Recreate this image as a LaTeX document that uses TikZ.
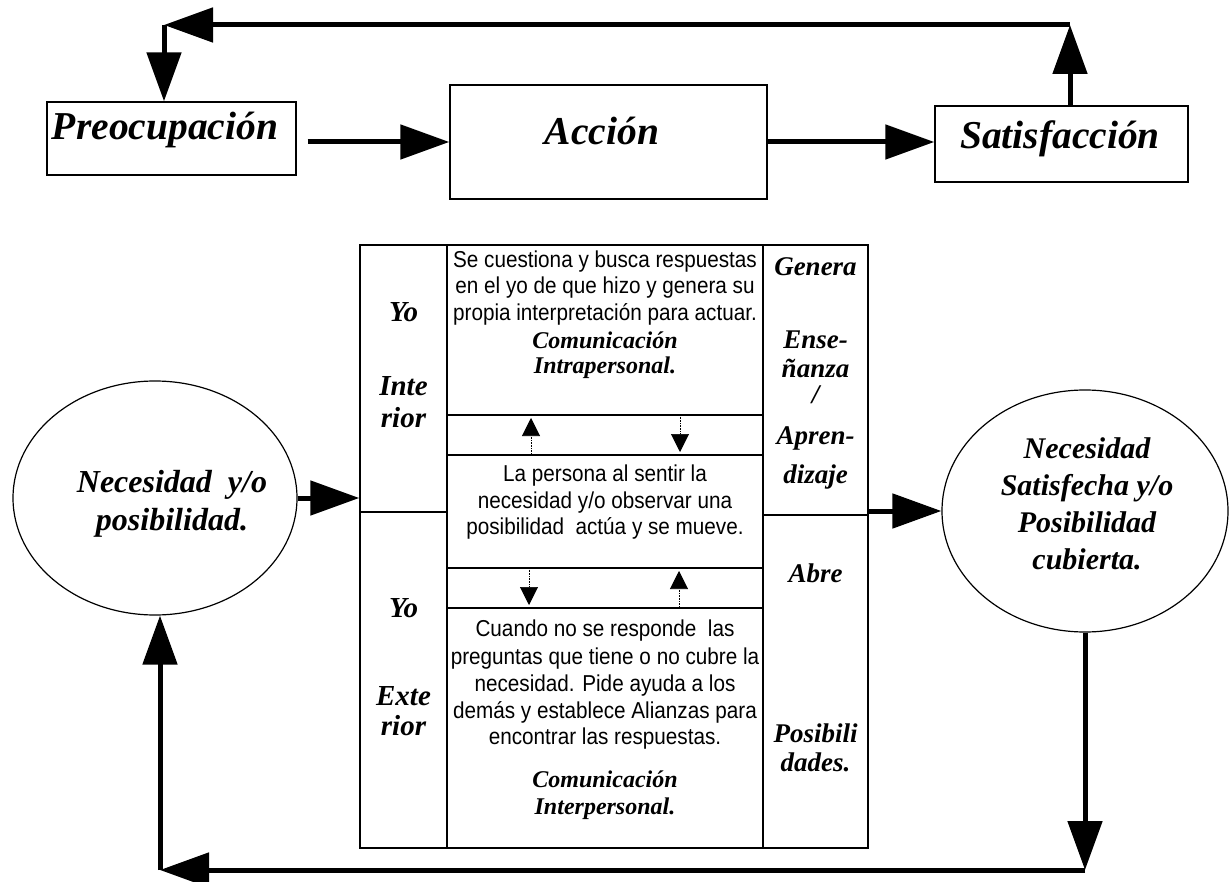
\documentclass[tikz,border=0pt]{standalone}
\usepackage{fontspec}
\setmainfont{Liberation Serif}
\newfontfamily\narrowsans[FakeStretch=0.9]{Liberation Sans}
\usetikzlibrary{arrows.meta,shapes.geometric}
\tikzset{
  box/.style={draw, line width=1.4pt, inner sep=0pt},
  ell/.style={ellipse, draw, line width=1.2pt, inner sep=0pt},
  tline/.style={line width=1.4pt},
  title/.style={font=\bfseries\itshape\fontsize{39.5}{44}\selectfont, inner sep=0pt, anchor=base},
  lbl/.style={font=\bfseries\itshape\fontsize{29}{33}\selectfont, inner sep=0pt, anchor=base},
  rlbl/.style={font=\bfseries\itshape\fontsize{27}{30}\selectfont, inner sep=0pt, anchor=base},
  ellt/.style={font=\bfseries\itshape\fontsize{#1}{#1}\selectfont, inner sep=0pt, anchor=base},
  com/.style={font=\bfseries\itshape\fontsize{24}{28}\selectfont, inner sep=0pt, anchor=base},
  txt/.style={font=\narrowsans\fontsize{23}{26.5}\selectfont, inner sep=0pt, anchor=base},
  big/.style={line width=5pt, -{Triangle[length=49pt,width=34pt]}},
  small/.style={line width=0.6pt, densely dotted, -{Triangle[length=18pt,width=18pt]}}
}
\begin{document}
\begin{tikzpicture}[x=1pt,y=-1pt]
\useasboundingbox (0,0) rectangle (1229,882);

% top boxes
\node[box, minimum width=249pt, minimum height=73pt] (preoc) at (171.5,138.5) {};
\node[box, minimum width=317pt, minimum height=114pt] (accion) at (608.5,142) {};
\node[box, minimum width=253pt, minimum height=76pt] (satis) at (1061.5,144) {};
\node[title] (preoct) at (165,140) {Preocupación};
\node[title] (acciont) at (602,145) {Acción};
\node[title] (satist) at (1060,149) {Satisfacción};

% top connectors
\coordinate (pa) at ([xshift=11pt]preoc.east);
\draw[big] (pa |- accion.west) -- (accion.west);
\draw[big] (accion.east) -- (accion.east -| satis.west);
\coordinate (tr) at (1070,25);
\coordinate (tl) at (164,25);
\draw[big] (satis.north -| tr) -- (tr);
\draw[big] (tr) -- (tl);
\draw[big] (tl) -- (tl |- preoc.north);

% table
\node[box, minimum width=508pt, minimum height=603pt] (tbl) at (614,546.5) {};
\draw[tline] (447,245) -- (447,848);
\draw[tline] (763,245) -- (763,848);
\draw[tline] (447,415) -- (763,415);
\draw[tline] (447,455) -- (763,455);
\draw[tline] (447,568) -- (763,568);
\draw[tline] (447,608) -- (763,608);
\draw[tline] (360,512) -- (447,512);
\draw[tline] (763,515) -- (868,515);

% left column labels
\node[lbl] (l1) at (403.5,322) {Yo};
\node[lbl] (l2) at (403.5,396) {Inte};
\node[lbl] (l3) at (403.5,428) {rior};
\node[lbl] (l4) at (403.5,617) {Yo};
\node[lbl] (l5) at (403.5,705) {Exte};
\node[lbl] (l6) at (403.5,735) {rior};

% right column labels
\node[rlbl] (r1) at (815.5,276) {Genera};
\node[rlbl] (r2) at (815.5,349) {Ense-};
\node[rlbl] (r3) at (815.5,378) {ñanza};
\node[rlbl] (r4) at (815.5,404) {/};
\node[rlbl] (r5) at (815.5,445) {Apren-};
\node[rlbl] (r6) at (815.5,483) {dizaje};
\node[rlbl] (r7) at (815.5,582) {Abre};
\node[rlbl] (r8) at (815.5,742) {Posibili};
\node[rlbl] (r9) at (815.5,771) {dades.};

% middle column texts
\node[txt] (m1) at (605,268) {Se cuestiona y busca respuestas};
\node[txt] (m2) at (605,294) {en el yo de que hizo y genera su};
\node[txt] (m3) at (605,321) {propia interpretación para actuar.};
\node[com] (m4) at (605,349) {Comunicación};
\node[com] (m5) at (605,374) {Intrapersonal.};
\node[txt] (m6) at (605,481) {La persona al sentir la};
\node[txt] (m7) at (605,508) {necesidad y/o observar una};
\node[txt] (m8) at (605,534) {posibilidad\ \ actúa y se mueve.};
\node[txt] (m9) at (605,636) {Cuando no se responde\ \ las};
\node[txt] (m10) at (605,664) {preguntas que tiene o no cubre la};
\node[txt] (m11) at (605,691) {necesidad. Pide ayuda a los};
\node[txt] (m12) at (605,718) {demás y establece Alianzas para};
\node[txt] (m13) at (605,744) {encontrar las respuestas.};
\node[com] (m14) at (605,787) {Comunicación};
\node[com] (m15) at (605,814) {Interpersonal.};

% small arrows
\coordinate (a1s) at (531,455); \coordinate (a1e) at (531,418);
\coordinate (a2s) at (680,415); \coordinate (a2e) at (680,452);
\coordinate (a3s) at (529,568); \coordinate (a3e) at (529,605);
\coordinate (a4s) at (679,608); \coordinate (a4e) at (679,571);
\draw[small] (a1s) -- (a1e);
\draw[small] (a2s) -- (a2e);
\draw[small] (a3s) -- (a3e);
\draw[small] (a4s) -- (a4e);

% ellipses
\node[ell, minimum width=284pt, minimum height=234pt] (necell) at (155,498) {};
\node[ell, minimum width=286pt, minimum height=242pt] (satell) at (1085,511) {};
\node[ellt=32] (e1) at (172,492) {Necesidad\ \ y/o};
\node[ellt=32] (e2) at (172,530) {posibilidad.};
\node[ellt=30] (e3) at (1087,458) {Necesidad};
\node[ellt=30] (e4) at (1087,495) {Satisfecha y/o};
\node[ellt=30] (e5) at (1087,532) {Posibilidad};
\node[ellt=30] (e6) at (1087,569) {cubierta.};

\draw[big] (necell.east) -- (necell.east -| tbl.west);
\draw[big] (tbl.east |- satell.west) -- (satell.west);

% bottom loop
\coordinate (br) at (1085,870);
\coordinate (bl) at (160,870);
\draw[big] (satell.south) -- (br);
\draw[big] (br) -- (bl);
\draw[big] (bl) -- (bl |- necell.south);
\end{tikzpicture}
\end{document}
